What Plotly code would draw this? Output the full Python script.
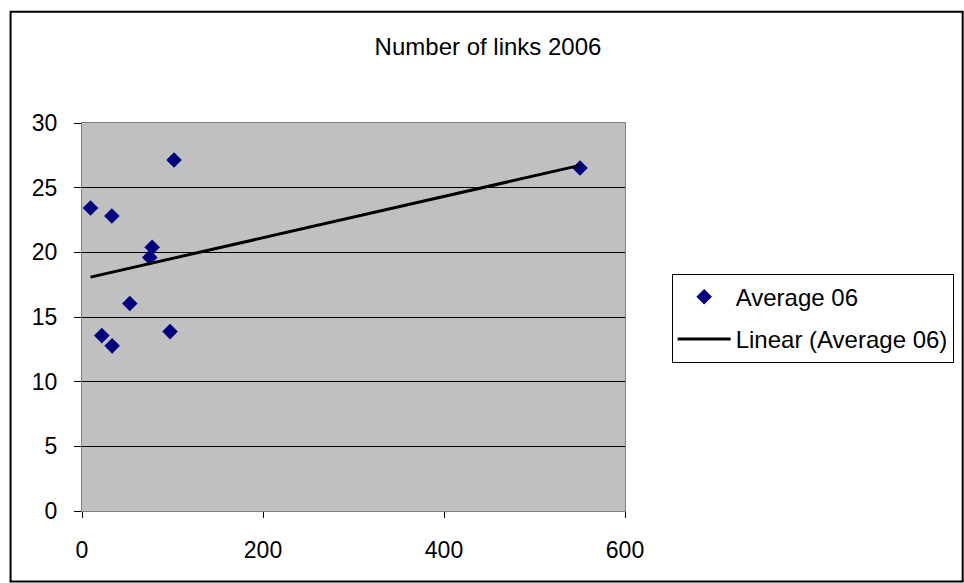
import numpy as np
import plotly.graph_objects as go

# Data
x_vals = [9.4, 21.9, 33.3, 33.0, 52.8, 74.9, 77.5, 97.3, 101.7, 550.3]
y_vals = [23.43, 13.56, 12.77, 22.81, 16.04, 19.61, 20.39, 13.87, 27.14, 26.52]
series_name = "Average 06"
trend_name = "Linear (Average 06)"
title_text = "Number of links 2006"
x_ticks = [0, 200, 400, 600]
y_ticks = [0, 5, 10, 15, 20, 25, 30]

# Linear trendline (least squares)
slope, intercept = np.polyfit(x_vals, y_vals, 1)
tx = [min(x_vals), max(x_vals)]
ty = [slope * v + intercept for v in tx]

W, H = 964, 583
L, R, T, B = 81.5, 625, 123.3, 511.5
pw, ph = R - L, B - T

def px(xp):
    return (xp - L) / pw

def py(yp):
    return (B - yp) / ph

fig = go.Figure()
fig.add_trace(go.Scatter(
    x=x_vals, y=y_vals, mode="markers", name=series_name, legendgroup="a",
    marker=dict(symbol="diamond", color="#000080", size=12, line=dict(width=0)),
))
fig.add_trace(go.Scatter(
    x=tx, y=ty, mode="lines", name=trend_name, legendgroup="b",
    line=dict(color="black", width=3),
))

font = "Liberation Sans, Arial, sans-serif"
fig.update_layout(
    width=W, height=H,
    margin=dict(l=L, r=W - R, t=T, b=H - B, pad=0, autoexpand=False),
    paper_bgcolor="white",
    plot_bgcolor="#C0C0C0",
    font=dict(family=font, size=23, color="black"),
    title=dict(text=title_text, x=488 / W, xanchor="center", xref="container",
               y=1 - 47 / H, yanchor="middle", yref="container",
               font=dict(family=font, size=24, color="black")),
    showlegend=True,
    legend=dict(x=px(671.7), y=py(274), xanchor="left", yanchor="top",
                bordercolor="black", borderwidth=1, bgcolor="white",
                font=dict(family=font, size=24), tracegroupgap=8,
                traceorder="grouped", itemwidth=53),
    xaxis=dict(range=[0, 600], tickvals=x_ticks, showgrid=False, zeroline=False,
               showline=True, linecolor="#808080", linewidth=1, mirror=True,
               ticks="outside", ticklen=6, tickcolor="black",
               ticklabelstandoff=12, tickfont=dict(size=23)),
    yaxis=dict(range=[0, 30], tickvals=y_ticks, showgrid=True,
               gridcolor="black", gridwidth=1, zeroline=False,
               showline=True, linecolor="#808080", linewidth=1, mirror=True,
               ticks="outside", ticklen=7, tickcolor="black",
               ticklabelstandoff=12, tickfont=dict(size=23)),
    shapes=[dict(type="rect", xref="paper", yref="paper",
                 x0=px(10), x1=px(963), y0=py(582), y1=py(12),
                 line=dict(color="black", width=2), fillcolor="rgba(0,0,0,0)",
                 layer="below")],
)

fig.write_html("out.html")
